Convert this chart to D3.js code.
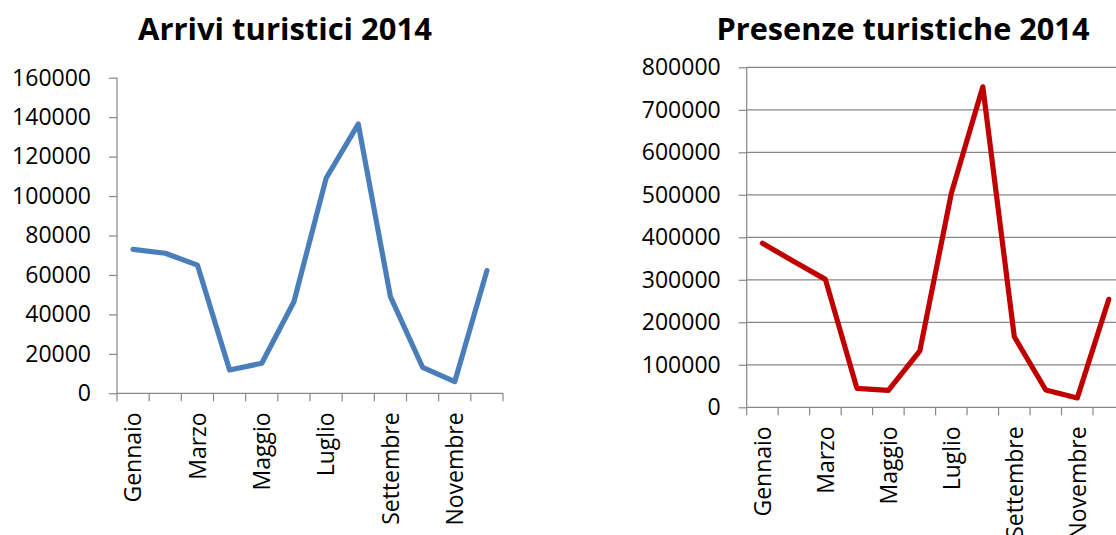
<!DOCTYPE html>
<html>
<head>
<meta charset="utf-8">
<script src="https://cdn.jsdelivr.net/npm/d3@7"></script>
<style>
  html, body { margin: 0; padding: 0; background: #fff; }
  svg { display: block; }
  text { font-family: "Open Sans", "Liberation Sans", sans-serif; fill: #000; }
</style>
</head>
<body>
<svg id="chart" width="1116" height="535"></svg>
<script>
const months = ["Gennaio","Febbraio","Marzo","Aprile","Maggio","Giugno","Luglio","Agosto","Settembre","Ottobre","Novembre","Dicembre"];
const arrivi = [73000, 71000, 65000, 11800, 15200, 46400, 109000, 136500, 49000, 13200, 5900, 62200];
const presenze = [386000, 343000, 301000, 44700, 40000, 133000, 503500, 754000, 166000, 40700, 22000, 254000];
const arriviTicks = [0, 20000, 40000, 60000, 80000, 100000, 120000, 140000, 160000];
const presenzeTicks = [0, 100000, 200000, 300000, 400000, 500000, 600000, 700000, 800000];
const titles = ["Arrivi turistici 2014", "Presenze turistiche 2014"];

const svg = d3.select("#chart");
const axisColor = "#868686";

function drawChart(cfg) {
  const g = svg.append("g");
  const x = d3.scaleBand().domain(months).range([cfg.x0, cfg.x1]).padding(0);
  const y = d3.scaleLinear().domain([0, cfg.max]).range([cfg.y0, cfg.yTop]);

  // gridlines
  if (cfg.grid) {
    g.append("g").selectAll("line").data(cfg.ticks.filter(d => d > 0)).join("line")
      .attr("x1", cfg.x0).attr("x2", cfg.x1)
      .attr("y1", d => y(d)).attr("y2", d => y(d))
      .attr("stroke", axisColor).attr("stroke-width", 1.2);
  }

  // y axis
  const yAxis = d3.axisLeft(y).tickValues(cfg.ticks).tickSize(8).tickPadding(18).tickFormat(d3.format("d"));
  const ya = g.append("g").attr("transform", `translate(${cfg.x0},0)`).call(yAxis);
  ya.select(".domain").attr("stroke", axisColor).attr("stroke-width", 1.2).attr("d", `M0,${cfg.yTop}V${cfg.y0}`);
  ya.selectAll(".tick line").attr("stroke", axisColor).attr("stroke-width", 1.2);
  ya.selectAll(".tick text").attr("font-size", 23).attr("font-family", '"Open Sans", sans-serif').attr("fill", "#000");

  // x axis line
  g.append("line").attr("x1", cfg.x0).attr("x2", cfg.x1).attr("y1", cfg.y0).attr("y2", cfg.y0)
    .attr("stroke", axisColor).attr("stroke-width", 1.2);
  const bounds = d3.range(months.length + 1).map(i => cfg.x0 + i * x.step());
  g.append("g").selectAll("line").data(bounds).join("line")
    .attr("x1", d => d).attr("x2", d => d).attr("y1", cfg.y0).attr("y2", cfg.y0 + 8)
    .attr("stroke", axisColor).attr("stroke-width", 1.2);

  // x labels (every other month)
  g.append("g").selectAll("text").data(months.filter((m, i) => i % 2 === 0)).join("text")
    .attr("transform", d => `translate(${x(d) + x.bandwidth() / 2},${cfg.y0 + 19}) rotate(-90)`)
    .attr("text-anchor", "end").attr("dy", "0.36em")
    .attr("font-size", 23).text(d => d);

  // line
  const line = d3.line().x((d, i) => x(months[i]) + x.bandwidth() / 2).y(d => y(d));
  g.append("path").datum(cfg.values).attr("d", line)
    .attr("fill", "none").attr("stroke", cfg.color).attr("stroke-width", 5.2)
    .attr("stroke-linejoin", "round").attr("stroke-linecap", "round");

  // title
  const t = g.append("text").attr("x", cfg.titleX).attr("y", 40).attr("text-anchor", "middle")
    .attr("font-weight", "bold").attr("font-size", 30).text(cfg.title);
  const w = t.node().getComputedTextLength();
  t.attr("font-size", 30 * cfg.titleW / w);
}

drawChart({x0: 117, x1: 503, y0: 393.3, yTop: 77.7, max: 160000, ticks: arriviTicks, values: arrivi,
  color: "#4a7ebb", grid: false, title: titles[0], titleX: 285, titleW: 294});
drawChart({x0: 746.7, x1: 1124.5, y0: 407.3, yTop: 67.3, max: 800000, ticks: presenzeTicks, values: presenze,
  color: "#c00000", grid: true, title: titles[1], titleX: 903, titleW: 373});
</script>
</body>
</html>
